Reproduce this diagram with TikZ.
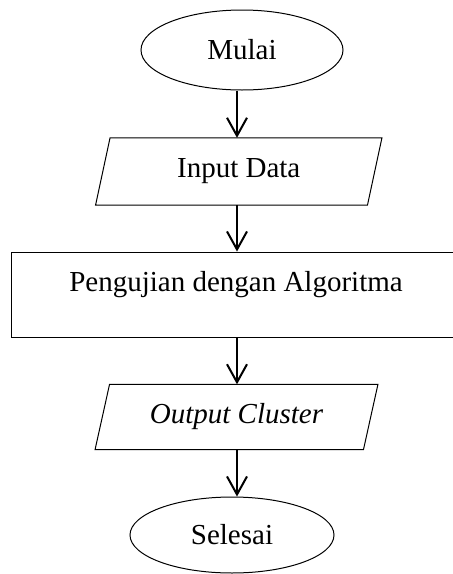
\documentclass[tikz,border=0pt]{standalone}
\usepackage{fontspec}
\setmainfont{Liberation Serif}
\usetikzlibrary{shapes.geometric,arrows.meta}

\tikzset{
  outline/.style={draw=black, line width=1pt},
  terminal/.style={outline, ellipse, inner sep=0pt},
  iobox/.style={draw=none, inner sep=0pt},
  procbox/.style={outline, rectangle, inner sep=0pt},
  label/.style={inner sep=0pt, font=\fontsize{29}{34}\selectfont},
  flow/.style={line width=2pt, -{Straight Barb[length=18pt, width=20pt, line width=2pt]}}
}

\begin{document}
\begin{tikzpicture}[x=1pt, y=-1pt]
  \useasboundingbox (0,0) rectangle (453,574);

  % flow axis
  \coordinate (axis) at (237,0);

  % start
  \node[terminal, minimum width=202pt, minimum height=80pt, label] (mulai) at (242,50) {Mulai};

  % input
  \node[iobox, minimum width=271.5pt, minimum height=67pt, label] (input) at (238.75,171.5) {Input Data};
  \draw[outline] ([xshift=-7.25pt]input.south west) -- ([xshift=7.25pt]input.north west)
    -- ([xshift=7.25pt]input.north east) -- ([xshift=-7.25pt]input.south east) -- cycle;

  % process
  \node[procbox, minimum width=443pt, minimum height=85pt] (proc) at (232.5,294.5) {};
  \node[label] (proctext) at (236,285) {Pengujian dengan Algoritma};

  % output
  \node[iobox, minimum width=268pt, minimum height=65pt, label] (output) at (236.5,417) {\itshape Output Cluster};
  \draw[outline] ([xshift=-7.25pt]output.south west) -- ([xshift=7.25pt]output.north west)
    -- ([xshift=7.25pt]output.north east) -- ([xshift=-7.25pt]output.south east) -- cycle;

  % end
  \node[terminal, minimum width=204pt, minimum height=76pt, label] (selesai) at (232,535) {Selesai};

  % connectors
  \draw[flow] (mulai.south -| axis) -- (input.north -| axis);
  \draw[flow] (input.south -| axis) -- (proc.north -| axis);
  \draw[flow] (proc.south -| axis) -- (output.north -| axis);
  \draw[flow] (output.south -| axis) -- (selesai.north -| axis);
\end{tikzpicture}
\end{document}
